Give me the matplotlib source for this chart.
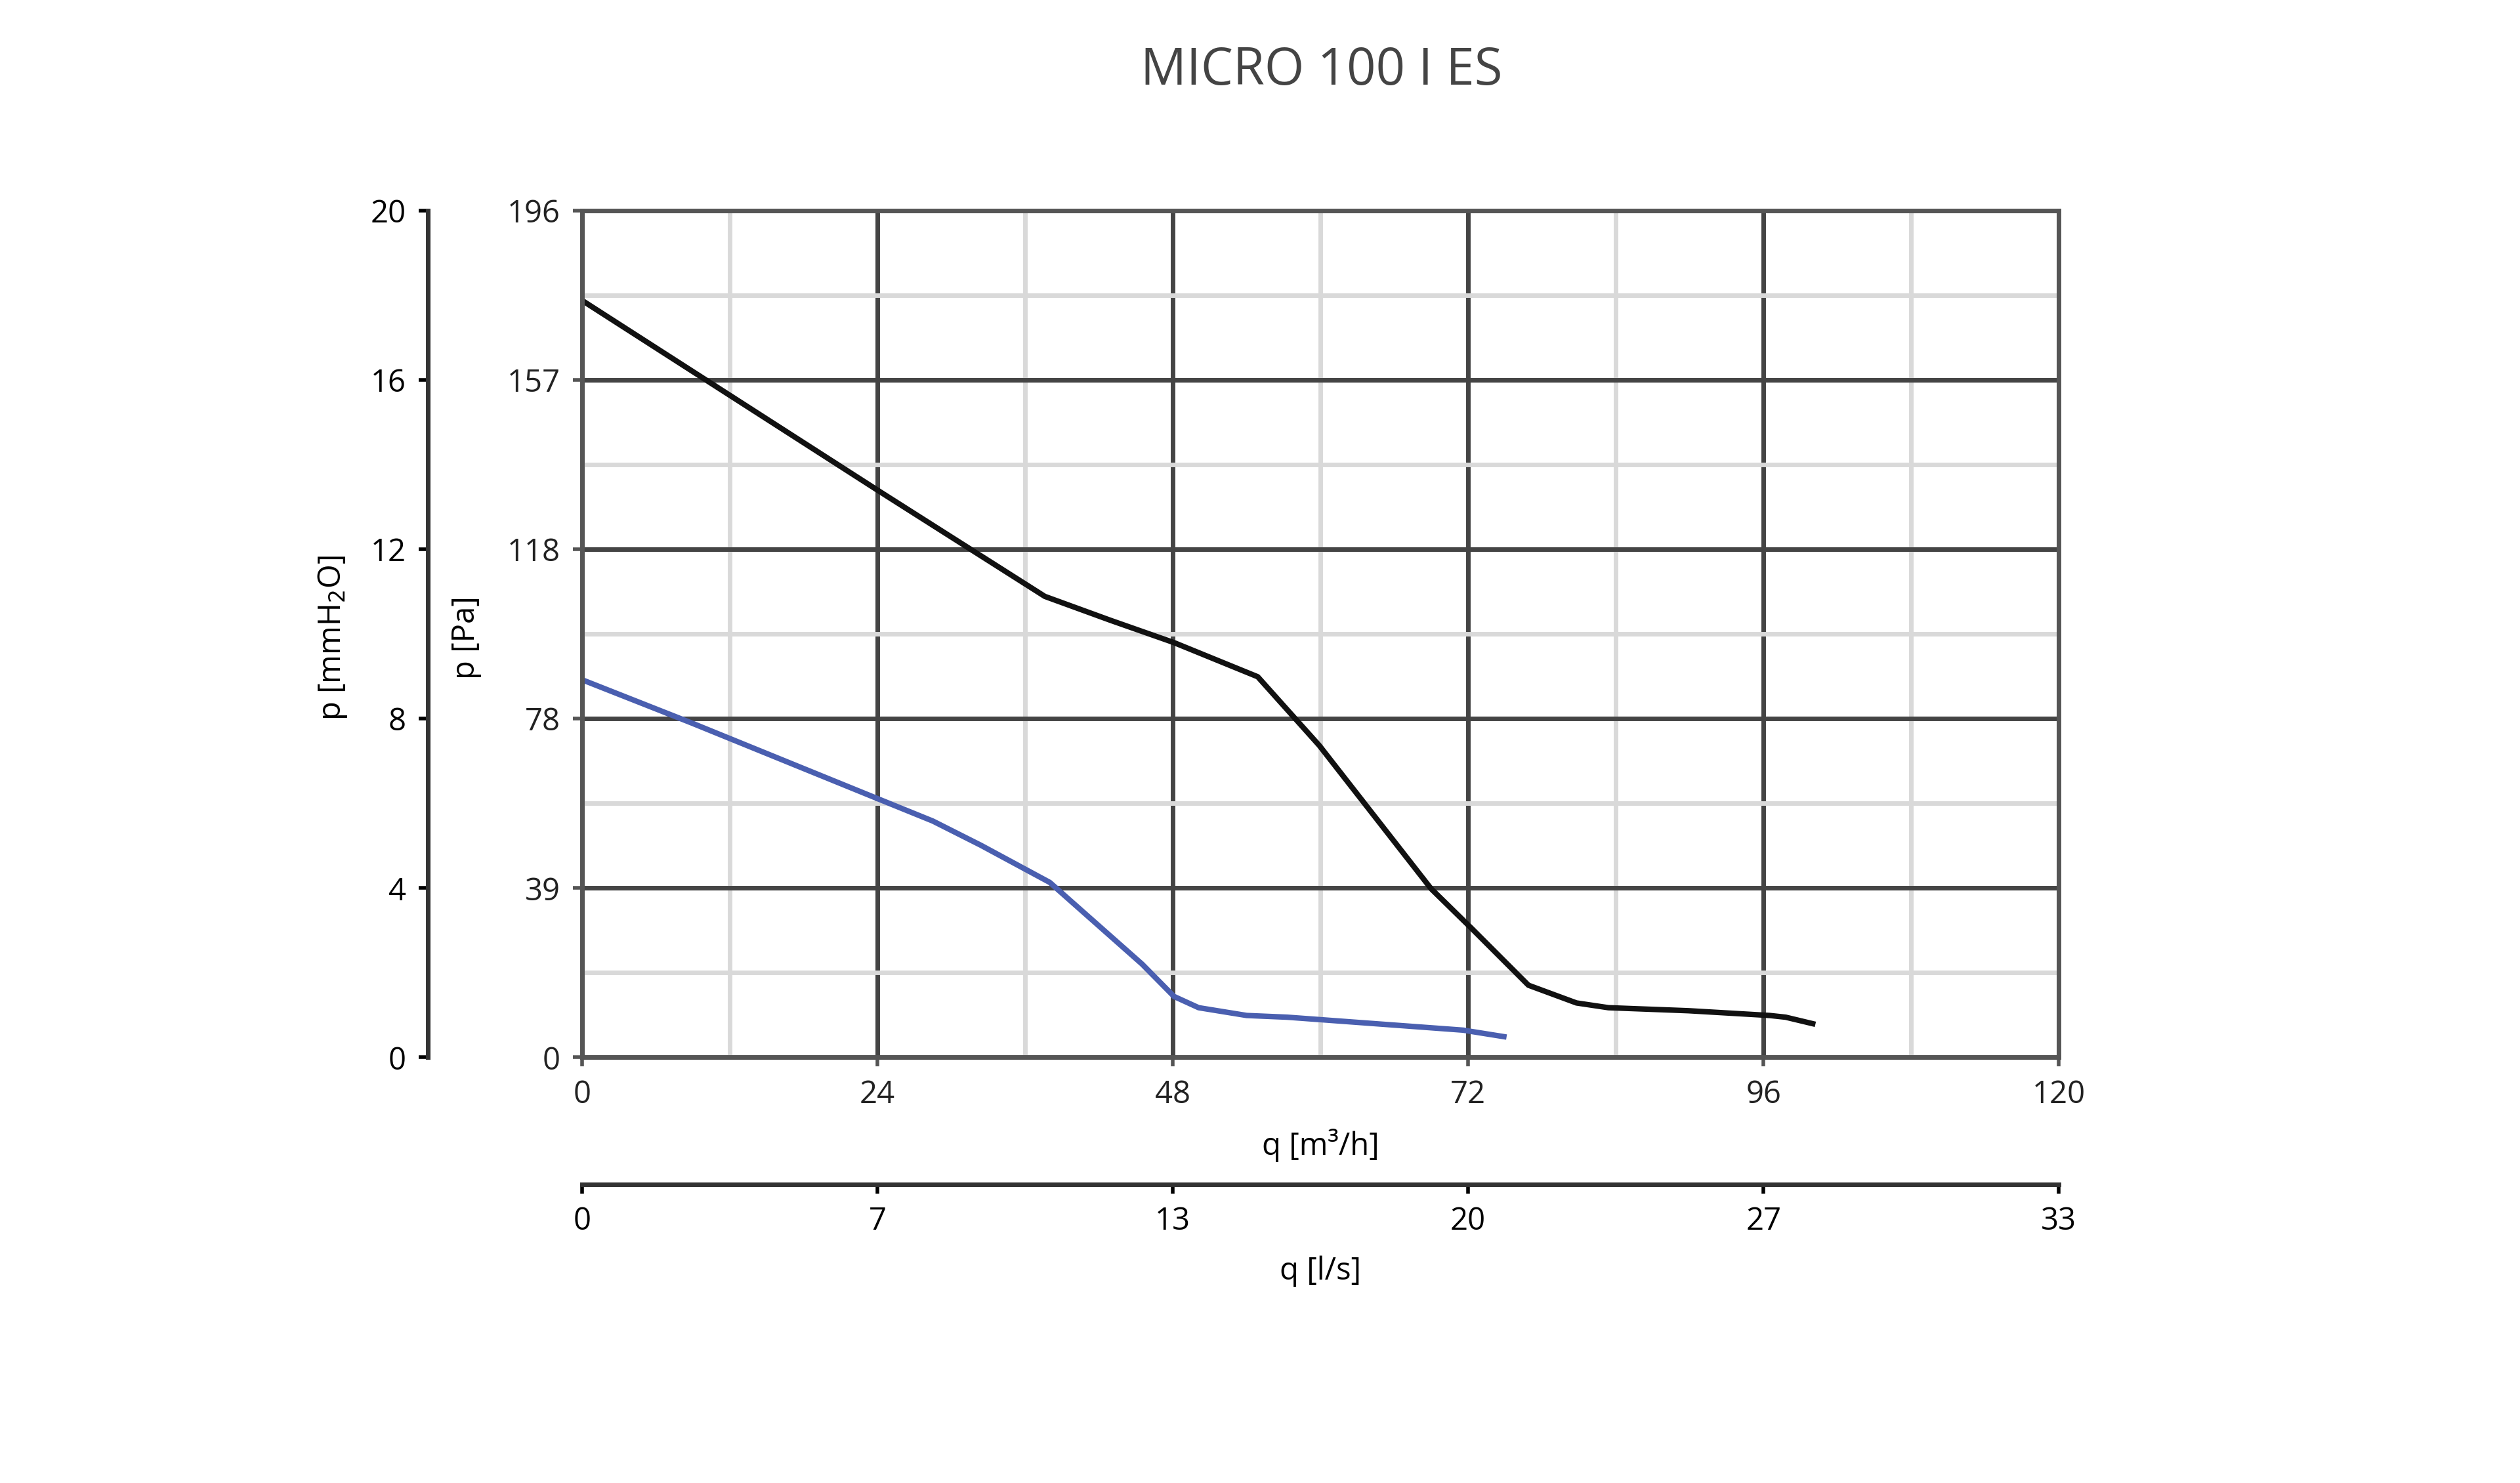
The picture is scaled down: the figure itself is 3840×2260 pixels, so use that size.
import matplotlib.pyplot as plt

# flow in m3/h, pressure in Pa
black_q = [0, 24, 37.6, 42.9, 48.1, 54.9, 59.9, 69, 72.3, 76.9, 80.8, 83.4, 89.9, 96.5, 97.8, 100]
black_p = [175.2, 131.3, 106.7, 101.2, 96, 88.1, 72.2, 39, 29.8, 16.7, 12.6, 11.5, 10.8, 9.7, 9.3, 7.8]
blue_q = [0, 8.9, 24, 28.5, 32.4, 38, 45.5, 48.1, 50.1, 54, 57.3, 71.6, 74.9]
blue_p = [87.4, 77.4, 59.9, 54.7, 49.1, 40.5, 21.6, 14.1, 11.5, 9.7, 9.3, 6.3, 4.8]

q_ticks = [0, 24, 48, 72, 96, 120]
pa_labels = ['0', '39', '78', '118', '157', '196']
mm_labels = ['0', '4', '8', '12', '16', '20']
ls_labels = ['0', '7', '13', '20', '27', '33']

plt.rcParams['font.family'] = 'Open Sans'
fs = 34
dark = '#333333'

fig = plt.figure(figsize=(38.4, 22.6), dpi=100)
left, right, bottom, top = 0.231, 0.817, 0.287, 0.858
ax = fig.add_axes([left, bottom, right - left, top - bottom])

pa_ticks = [i * 196 / 5 for i in range(6)]
ax.set_xlim(0, 120)
ax.set_ylim(0, 196)
ax.set_xticks(q_ticks)
ax.set_yticks(pa_ticks)
ax.set_yticklabels(pa_labels)
ax.set_xticks([12, 36, 60, 84, 108], minor=True)
ax.set_yticks([p + 196 / 10 for p in pa_ticks[:-1]], minor=True)
ax.grid(True, which='minor', color='#d9d9d9', lw=5)
ax.grid(True, which='major', color='#444444', lw=5)
ax.set_axisbelow(True)
for s in ax.spines.values():
    s.set_color('#555555')
    s.set_linewidth(5)
ax.tick_params(which='major', length=10, width=4, color='#555555',
               labelsize=fs, labelcolor='#222222', pad=14)
ax.tick_params(which='minor', length=0)

ax.plot(black_q, black_p, color='#111111', lw=6)
ax.plot(blue_q, blue_p, color='#4a5fb0', lw=6)
ax.set_xlabel('q [m³/h]', fontsize=fs, labelpad=20)
fig.text(0.185, 0.57, 'p [Pa]', rotation=90, fontsize=fs, ha='center', va='center')

# left mmH2O axis
ax2 = fig.add_axes([0.1698, bottom, 0.001, top - bottom])
ax2.set_ylim(0, 20)
ax2.set_yticks([0, 4, 8, 12, 16, 20])
ax2.set_yticklabels(mm_labels)
ax2.set_xticks([])
for k in ['top', 'right', 'bottom']:
    ax2.spines[k].set_visible(False)
ax2.spines['left'].set_linewidth(5)
ax2.spines['left'].set_color(dark)
ax2.tick_params(labelsize=fs, length=10, width=4, pad=14)
ax2.patch.set_alpha(0)
fig.text(0.132, 0.57, 'p [mmH$_2$O]', rotation=90, fontsize=fs, ha='center', va='center')

# bottom l/s axis
ax3 = fig.add_axes([left, 0.2015, right - left, 0.001])
ax3.set_xlim(0, 120)
ax3.set_xticks(q_ticks)
ax3.set_xticklabels(ls_labels)
ax3.set_yticks([])
for k in ['top', 'right', 'left']:
    ax3.spines[k].set_visible(False)
ax3.spines['bottom'].set_linewidth(5)
ax3.spines['bottom'].set_color(dark)
ax3.tick_params(labelsize=fs, length=10, width=4, pad=14)
ax3.patch.set_alpha(0)
ax3.set_xlabel('q [l/s]', fontsize=fs, labelpad=20)

fig.text(0.5245, 0.952, 'MICRO 100 I ES', fontsize=56, color='#444444', ha='center', va='center')
fig.savefig('out.png')
